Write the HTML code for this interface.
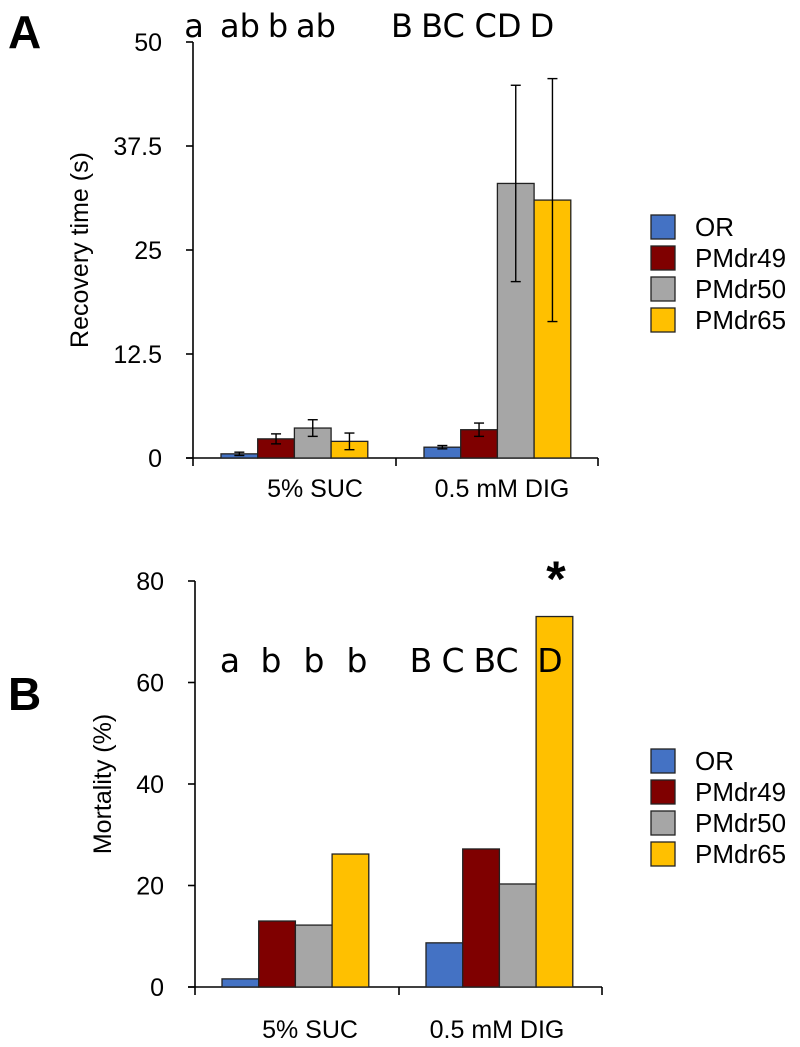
<!DOCTYPE html>
<html><head><meta charset="utf-8"><style>
html,body{margin:0;padding:0;background:#fff;}
svg{display:block;font-family:"Liberation Sans",Arial,sans-serif;}
</style></head><body>
<svg id="chart" width="800" height="1047" viewBox="0 0 800 1047" xmlns="http://www.w3.org/2000/svg">
<text x="8" y="48" font-size="46" font-weight="bold">A</text>
<text x="8" y="710" font-size="46" font-weight="bold">B</text>
<text transform="translate(88,250) rotate(-90)" text-anchor="middle" font-size="25">Recovery time (s)</text>
<text transform="translate(111,784) rotate(-90)" text-anchor="middle" font-size="25">Mortality (%)</text>
<text x="556" y="596" text-anchor="middle" font-size="50" font-weight="bold">*</text>
<g id="ga"></g><g id="gb"></g>
</svg>
<script>
const categories = ["5% SUC", "0.5 mM DIG"];
const seriesNames = ["OR", "PMdr49", "PMdr50", "PMdr65"];
const colors = ["#4472C4", "#7F0000", "#A6A6A6", "#FFC000"];
const recoveryValues = [[0.5, 2.3, 3.6, 2.0], [1.3, 3.4, 33.0, 31.0]];
const recoveryErrors = [[0.2, 0.6, 1.0, 1.0], [0.2, 0.8, 11.8, 14.6]];
const recoveryTicks = [0, 12.5, 25, 37.5, 50];
const recoveryTickLabels = ["0", "12.5", "25", "37.5", "50"];
const mortalityValues = [[1.6, 13.0, 12.2, 26.2], [8.7, 27.2, 20.3, 73.0]];
const mortalityTicks = [0, 20, 40, 60, 80];
const mortalityTickLabels = ["0", "20", "40", "60", "80"];
const lettersA = [["a","ab","b","ab"], ["B","BC","CD","D"]];
const lettersB = [["a","b","b","b"], ["B","C","BC","D"]];

const NS = "http://www.w3.org/2000/svg";
function mk(parent, tag, attrs, txt){
  const e = document.createElementNS(NS, tag);
  for (const k in attrs) e.setAttribute(k, attrs[k]);
  if (txt !== undefined) e.textContent = txt;
  parent.appendChild(e); return e;
}

function panel(g, o){
  const y = v => o.y0 - (v / o.max) * (o.y0 - o.yTop);
  const gx = (ci, si) => o.x0 + o.groupStart + ci * o.groupStep + si * o.barW;
  const ya = mk(g, "line", {x1:o.x0, y1:o.yTop, x2:o.x0, y2:o.y0, stroke:"#000", "stroke-width":1.6});
  
  
  const xa = mk(g, "line", {x1:o.x0-7, y1:o.y0, x2:o.xEnd, y2:o.y0, stroke:"#000", "stroke-width":1.6});
  
  
  [o.x0, o.x0 + o.groupStep, o.xEnd].forEach(xx => {
    const t = mk(g, "line", {x1:xx, y1:o.y0, x2:xx, y2:o.y0+8, stroke:"#000", "stroke-width":1.6});
    
    
  });
  o.ticks.forEach((v, i) => {
    const t = mk(g, "line", {x1:o.x0-7, y1:y(v), x2:o.x0, y2:y(v), stroke:"#000", "stroke-width":1.6});
    
    
    const l = mk(g, "text", {x:o.x0-31, y:y(v)+9, "text-anchor":"end", "font-size":25}, o.tickLabels[i]);
    
    
  });
  o.values.forEach((grp, ci) => grp.forEach((v, si) => {
    const b = mk(g, "rect", {x:gx(ci, si), y:y(v), width:o.barW, height:o.y0 - y(v), fill:colors[si], stroke:"#222", "stroke-width":1.3});
    
    
    if (o.errors){
      const e = o.errors[ci][si], cx = gx(ci, si) + o.barW/2;
      const eg = mk(g, "g", {stroke:"#000", "stroke-width":1.4});
      
      
      mk(eg, "line", {x1:cx, y1:y(v+e), x2:cx, y2:y(v-e)});
      mk(eg, "line", {x1:cx-5, y1:y(v+e), x2:cx+5, y2:y(v+e)});
      mk(eg, "line", {x1:cx-5, y1:y(v-e), x2:cx+5, y2:y(v-e)});
    }
  }));
  categories.forEach((c, ci) => {
    const t = mk(g, "text", {x:o.catX[ci], y:o.catY, "text-anchor":"middle", "font-size":25}, c);
    
    
  });
  o.letters.forEach((grp, ci) => grp.forEach((s, si) => {
    const t = mk(g, "text", {x:o.letterX[ci][si], y:o.letterY, "text-anchor":"middle", "font-size":o.letterSize, "font-family":"DejaVu Sans, sans-serif"}, s);
    
    
  }));
  seriesNames.forEach((n, si) => {
    const ly = o.legY + si * 31;
    const r = mk(g, "rect", {x:651, y:ly, width:24, height:24, fill:colors[si], stroke:"#222", "stroke-width":1.3});
    
    
    const t = mk(g, "text", {x:695, y:ly+21, "font-size":26}, n);
    
    
  });
}

panel(document.getElementById("ga"), {
  x0:193, xEnd:598, y0:458, yTop:42, max:50, groupStart:28, groupStep:203, barW:36.7,
  ticks:recoveryTicks, tickLabels:recoveryTickLabels, values:recoveryValues, errors:recoveryErrors,
  catX:[315, 502], catY:497, letters:lettersA, letterY:37, letterSize:32,
  letterX:[[194, 240, 278, 316], [402, 443, 498, 542]], legY:215
});
panel(document.getElementById("gb"), {
  x0:195, xEnd:602, y0:987, yTop:581, max:80, groupStart:27, groupStep:204, barW:36.7,
  ticks:mortalityTicks, tickLabels:mortalityTickLabels, values:mortalityValues, errors:null,
  catX:[310, 497], catY:1038, letters:lettersB, letterY:672, letterSize:33,
  letterX:[[230, 271, 314, 357], [421, 453, 496, 550]], legY:749
});
</script>
</body></html>
